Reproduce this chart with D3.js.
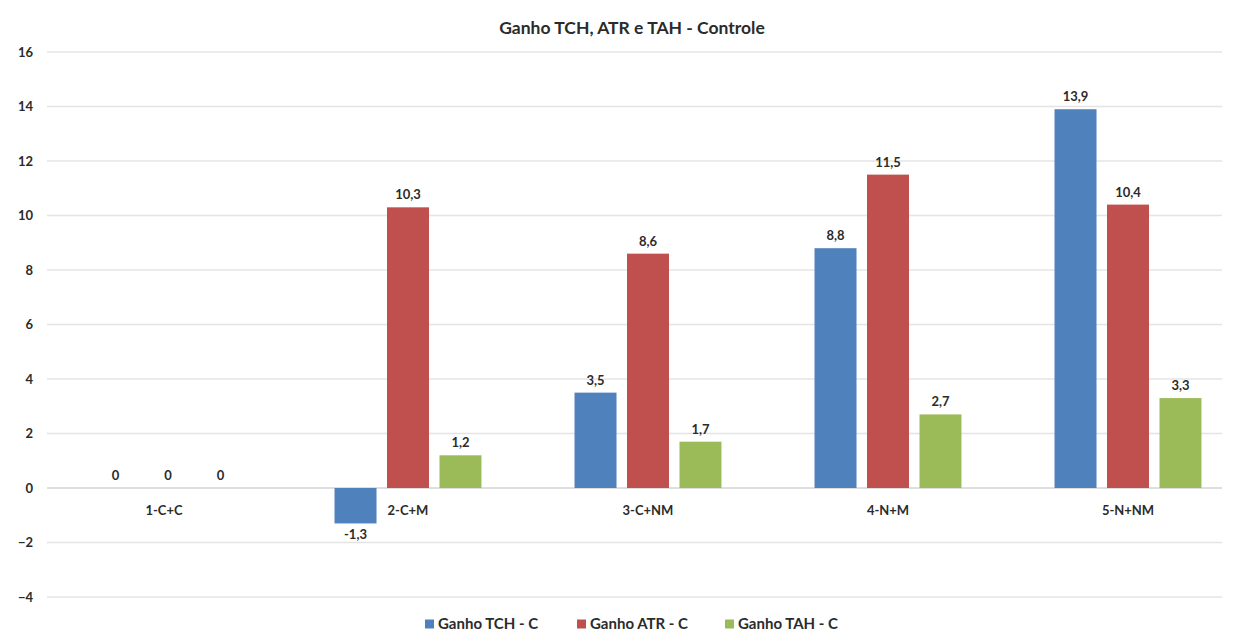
<!DOCTYPE html>
<html>
<head>
<meta charset="utf-8">
<script src="https://cdn.jsdelivr.net/npm/d3@7/dist/d3.min.js"></script>
<style>
  html, body { margin: 0; padding: 0; background: #fff; }
  svg { display: block; font-family: Lato, "Open Sans", sans-serif; }
</style>
</head>
<body>
<svg id="chart" width="1234" height="635"></svg>
<script>
// Categories (treatments) and the three gain series
const categories = ["1-C+C", "2-C+M", "3-C+NM", "4-N+M", "5-N+NM"];
const seriesNames = ["Ganho TCH - C", "Ganho ATR - C", "Ganho TAH - C"];
const tchValues = [0, -1.3, 3.5, 8.8, 13.9];
const atrValues = [0, 10.3, 8.6, 11.5, 10.4];
const tahValues = [0, 1.2, 1.7, 2.7, 3.3];
const yTicks = [-4, -2, 0, 2, 4, 6, 8, 10, 12, 14, 16];
const colors = ["#4F81BD", "#C0504D", "#9BBB59"];

const seriesValues = [tchValues, atrValues, tahValues];
const rows = categories.map((c, i) => ({
  category: c,
  values: seriesNames.map((s, j) => ({ series: s, value: seriesValues[j][i], idx: j }))
}));

const svg = d3.select("#chart");
const gridLeft = 47, gridRight = 1222;
const ink = "#2b2b2b";

const y = d3.scaleLinear().domain([-4, 16]).range([597, 52]);
const x0 = d3.scaleBand().domain(categories).range([48, 1248])
  .paddingInner(0.344).paddingOuter(0.172);
const x1 = d3.scaleBand().domain(seriesNames).range([0, x0.bandwidth()])
  .paddingInner(0.2).paddingOuter(0.1);
const color = d3.scaleOrdinal().domain(seriesNames).range(colors);
const fmt = v => String(v).replace(".", ",");

// Title
svg.append("text")
  .attr("x", 632).attr("y", 34)
  .attr("text-anchor", "middle")
  .attr("font-size", 17.5).attr("font-weight", "bold").attr("fill", ink)
  .text("Ganho TCH, ATR e TAH - Controle");

// Horizontal gridlines and value axis labels
const grid = svg.append("g");
grid.selectAll("line").data(yTicks).join("line")
  .attr("x1", gridLeft).attr("x2", gridRight)
  .attr("y1", d => y(d)).attr("y2", d => y(d))
  .attr("stroke", d => d === 0 ? "#d4d4d4" : "#e4e4e4").attr("stroke-width", 1.3);

const yAxis = d3.axisLeft(y).tickValues(yTicks).tickSize(0).tickPadding(0);
svg.append("g").attr("transform", "translate(33,0)")
  .call(yAxis)
  .call(g => g.select(".domain").remove())
  .call(g => g.selectAll("text")
    .attr("font-size", 13).attr("font-weight", "bold").attr("fill", ink)
    .attr("font-family", "Lato, sans-serif"));

// Bars
const groups = svg.append("g").selectAll("g").data(rows).join("g")
  .attr("transform", d => `translate(${x0(d.category)},0)`);

groups.selectAll("rect").data(d => d.values).join("rect")
  .attr("x", d => x1(d.series))
  .attr("width", x1.bandwidth())
  .attr("y", d => y(Math.max(0, d.value)))
  .attr("height", d => Math.abs(y(d.value) - y(0)))
  .attr("fill", d => color(d.series));

// Data labels
groups.selectAll("text.val").data(d => d.values).join("text")
  .attr("class", "val")
  .attr("x", d => x1(d.series) + x1.bandwidth() / 2)
  .attr("y", d => d.value < 0 ? y(d.value) + 16 : y(d.value) - 8)
  .attr("text-anchor", "middle")
  .attr("font-size", 13).attr("font-weight", "bold").attr("fill", ink)
  .text(d => fmt(d.value));

// Category labels
svg.append("g").selectAll("text").data(categories).join("text")
  .attr("x", d => x0(d) + x0.bandwidth() / 2 - (d === categories[0] ? 4 : 0))
  .attr("y", 515)
  .attr("text-anchor", "middle")
  .attr("font-size", 13).attr("font-weight", "bold").attr("fill", ink)
  .text(d => d);

// Legend
const legendX = [425, 577, 725];
const legend = svg.append("g").selectAll("g").data(seriesNames).join("g")
  .attr("transform", (d, i) => `translate(${legendX[i]},624)`);
legend.append("rect")
  .attr("x", 0).attr("y", -4.5).attr("width", 9).attr("height", 9)
  .attr("fill", d => color(d));
legend.append("text")
  .attr("x", 13).attr("y", 5)
  .attr("font-size", 15).attr("font-weight", "bold").attr("fill", ink)
  .text(d => d);
</script>
</body>
</html>
